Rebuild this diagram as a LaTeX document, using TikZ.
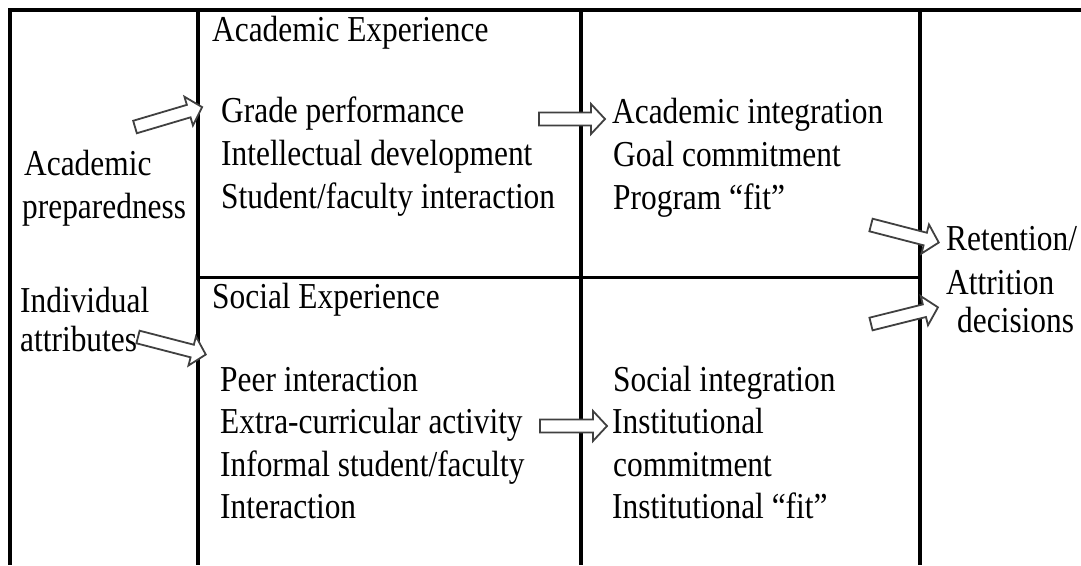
\documentclass[tikz,border=0pt]{standalone}
\usepackage{fontspec}
\setmainfont{Liberation Serif}[FakeStretch=0.86]
\begin{document}
\begin{tikzpicture}[x=1pt,y=-1pt,
  frame/.style={line width=3.2pt,black},
  txt/.style={anchor=base west,inner sep=0pt,font=\fontsize{36.5}{43}\selectfont},
  arrowline/.style={draw=black!75,line width=1.8pt,fill=white,line join=miter},
  pics/barrow/.style={code={
    \draw[arrowline] (0,-6.5)--({#1-14},-6.5)--({#1-14},-15)--(#1,0)--({#1-14},15)--({#1-14},6.5)--(0,6.5)--cycle;}}]
\useasboundingbox (0,0) rectangle (1081,565);
% frame
\draw[frame] (8.4,10) -- (1081,10);
\draw[frame] (10,10) -- (10,565);
\draw[frame] (198,10) -- (198,565);
\draw[frame] (581,10) -- (581,565);
\draw[frame] (920,10) -- (920,565);
\draw[frame] (198,277.5) -- (920,277.5);
% left column
\node[txt] (ap1) at (24,175) {Academic};
\node[txt] (ap2) at (22,218) {preparedness};
\node[txt] (ia1) at (20,312) {Individual};
\node[txt] (ia2) at (20,351) {attributes};
% academic experience
\node[txt] (ae) at (212,41) {Academic Experience};
\node[txt] (ae1) at (221,122) {Grade performance};
\node[txt] (ae2) at (221,165) {Intellectual development};
\node[txt] (ae3) at (221,208) {Student/faculty interaction};
% academic integration
\node[txt] (ai1) at (612,123) {Academic integration};
\node[txt] (ai2) at (613,166) {Goal commitment};
\node[txt] (ai3) at (613,209) {Program “fit”};
% social experience
\node[txt] (se) at (212,308) {Social Experience};
\node[txt] (se1) at (220,391) {Peer interaction};
\node[txt] (se2) at (220,433) {Extra-curricular activity};
\node[txt] (se3) at (220,476) {Informal student/faculty};
\node[txt] (se4) at (220,518) {Interaction};
% social integration
\node[txt] (si1) at (613,391) {Social integration};
\node[txt] (si2) at (612,433) {Institutional};
\node[txt] (si3) at (613,476) {commitment};
\node[txt] (si4) at (612,518) {Institutional “fit”};
% outcome
\node[txt] (r1) at (946,250) {Retention/};
\node[txt] (r2) at (946,294) {Attrition};
\node[txt] (r3) at (957,332) {decisions};
% block arrows
\pic[rotate=16.5] (a1) at (135,127) {barrow=70};
\pic[rotate=-14.5] (a2) at (138,337) {barrow=70};
\pic (a3) at (539,119) {barrow=66};
\pic (a4) at (540,426) {barrow=67};
\pic[rotate=-14.5] (a5) at (871,225) {barrow=70};
\pic[rotate=14] (a6) at (871,324) {barrow=69};
\end{tikzpicture}
\end{document}
